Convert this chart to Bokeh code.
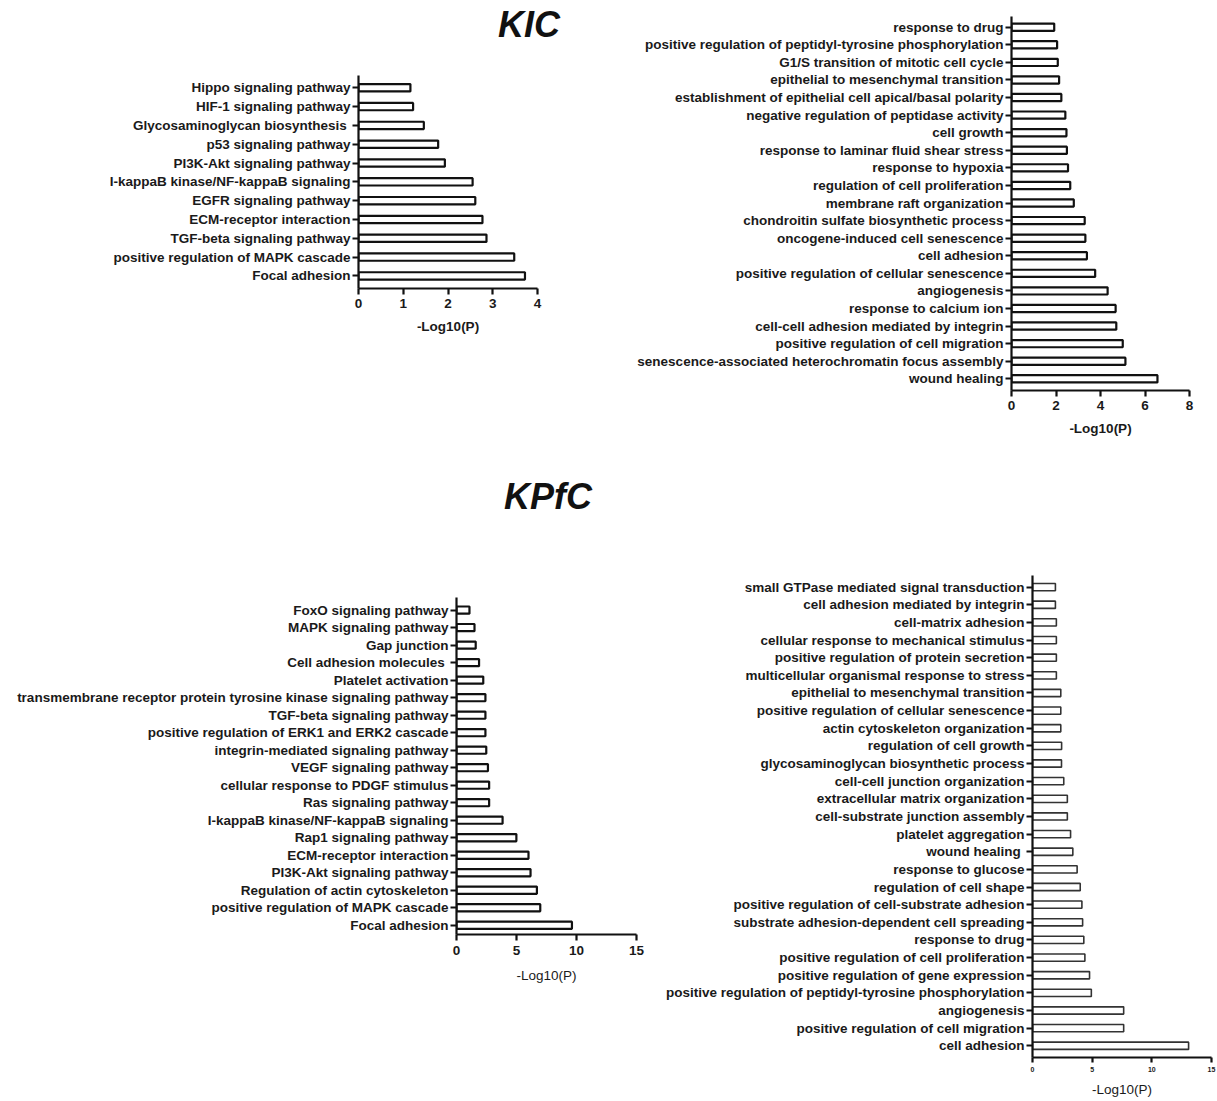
from bokeh.plotting import figure
from bokeh.layouts import column, row
from bokeh.models import Range1d, FixedTicker, ColumnDataSource, Div
from bokeh.embed import file_html
from bokeh.resources import INLINE

FONT = "Liberation Sans"

# ---------------- data ----------------
kic_kegg_terms = [
    "Hippo signaling pathway",
    "HIF-1 signaling pathway",
    "Glycosaminoglycan biosynthesis ",
    "p53 signaling pathway",
    "PI3K-Akt signaling pathway",
    "I-kappaB kinase/NF-kappaB signaling",
    "EGFR signaling pathway",
    "ECM-receptor interaction",
    "TGF-beta signaling pathway",
    "positive regulation of MAPK cascade",
    "Focal adhesion",
]
kic_kegg_values = [1.16, 1.22, 1.46, 1.78, 1.93, 2.55, 2.61, 2.77, 2.86, 3.48, 3.72]

kic_go_terms = [
    "response to drug",
    "positive regulation of peptidyl-tyrosine phosphorylation",
    "G1/S transition of mitotic cell cycle",
    "epithelial to mesenchymal transition",
    "establishment of epithelial cell apical/basal polarity",
    "negative regulation of peptidase activity",
    "cell growth",
    "response to laminar fluid shear stress",
    "response to hypoxia",
    "regulation of cell proliferation",
    "membrane raft organization",
    "chondroitin sulfate biosynthetic process",
    "oncogene-induced cell senescence",
    "cell adhesion",
    "positive regulation of cellular senescence",
    "angiogenesis",
    "response to calcium ion",
    "cell-cell adhesion mediated by integrin",
    "positive regulation of cell migration",
    "senescence-associated heterochromatin focus assembly",
    "wound healing",
]
kic_go_values = [1.92, 2.05, 2.08, 2.14, 2.24, 2.42, 2.47, 2.49, 2.54, 2.64, 2.80,
                 3.29, 3.32, 3.39, 3.76, 4.32, 4.68, 4.71, 5.00, 5.12, 6.56]

kpfc_kegg_terms = [
    "FoxO signaling pathway",
    "MAPK signaling pathway",
    "Gap junction",
    "Cell adhesion molecules ",
    "Platelet activation",
    "transmembrane receptor protein tyrosine kinase signaling pathway",
    "TGF-beta signaling pathway",
    "positive regulation of ERK1 and ERK2 cascade",
    "integrin-mediated signaling pathway",
    "VEGF signaling pathway",
    "cellular response to PDGF stimulus",
    "Ras signaling pathway",
    "I-kappaB kinase/NF-kappaB signaling",
    "Rap1 signaling pathway",
    "ECM-receptor interaction",
    "PI3K-Akt signaling pathway",
    "Regulation of actin cytoskeleton",
    "positive regulation of MAPK cascade",
    "Focal adhesion",
]
kpfc_kegg_values = [1.08, 1.50, 1.60, 1.88, 2.23, 2.41, 2.41, 2.41, 2.48, 2.62,
                    2.72, 2.72, 3.84, 4.99, 6.00, 6.17, 6.70, 6.98, 9.62]

kpfc_go_terms = [
    "small GTPase mediated signal transduction",
    "cell adhesion mediated by integrin",
    "cell-matrix adhesion",
    "cellular response to mechanical stimulus",
    "positive regulation of protein secretion",
    "multicellular organismal response to stress",
    "epithelial to mesenchymal transition",
    "positive regulation of cellular senescence",
    "actin cytoskeleton organization",
    "regulation of cell growth",
    "glycosaminoglycan biosynthetic process",
    "cell-cell junction organization",
    "extracellular matrix organization",
    "cell-substrate junction assembly",
    "platelet aggregation",
    "wound healing ",
    "response to glucose",
    "regulation of cell shape",
    "positive regulation of cell-substrate adhesion",
    "substrate adhesion-dependent cell spreading",
    "response to drug",
    "positive regulation of cell proliferation",
    "positive regulation of gene expression",
    "positive regulation of peptidyl-tyrosine phosphorylation",
    "angiogenesis",
    "positive regulation of cell migration",
    "cell adhesion",
]
kpfc_go_values = [1.92, 1.92, 2.00, 2.00, 2.00, 2.00, 2.37, 2.37, 2.37, 2.44,
                  2.43, 2.62, 2.92, 2.92, 3.19, 3.38, 3.74, 4.00, 4.14, 4.20,
                  4.30, 4.39, 4.78, 4.93, 7.64, 7.64, 13.08]

x_ticks_kic_kegg = [0, 1, 2, 3, 4]
x_ticks_kic_go = [0, 2, 4, 6, 8]
x_ticks_kpfc = [0, 5, 10, 15]
x_title = "-Log10(P)"
title_top = "KIC"
title_bottom = "KPfC"


def make_panel(terms, values, width, height, bl, br, bt, bb, xmax, xticks,
               ytop, ybottom, bar_h, tick_size, title_style, bar_lw, bar_color,
               tick_standoff, title_standoff, tick_out):
    n = len(terms)
    src = ColumnDataSource(dict(y=list(range(n)), v=values, term=terms))
    p = figure(width=width, height=height, output_backend="svg",
               toolbar_location=None,
               x_range=Range1d(0, xmax), y_range=Range1d(ybottom, ytop),
               min_border_left=bl, min_border_right=br,
               min_border_top=bt, min_border_bottom=bb)
    p.hbar(y="y", left=0, right="v", height=bar_h, source=src,
           fill_color="white", line_color=bar_color, line_width=bar_lw)
    p.xgrid.visible = False
    p.ygrid.visible = False
    p.outline_line_color = None
    p.background_fill_color = "white"
    p.border_fill_color = "white"

    for ax in (p.xaxis[0], p.yaxis[0]):
        ax.axis_line_width = 2.2
        ax.axis_line_color = "#111111"
        ax.major_tick_line_width = 2.2
        ax.major_tick_line_color = "#111111"
        ax.major_tick_out = tick_out
        ax.major_tick_in = 0
        ax.minor_tick_line_color = None
        ax.major_label_text_font = FONT
        ax.major_label_text_font_style = "bold"
        ax.major_label_text_color = "#1a1a1a"

    xa = p.xaxis[0]
    xa.ticker = FixedTicker(ticks=xticks)
    xa.major_label_text_font_size = tick_size
    xa.major_label_standoff = tick_standoff
    xa.axis_label = x_title
    xa.axis_label_text_font = FONT
    xa.axis_label_text_font_size = "13.5px"
    xa.axis_label_text_font_style = title_style
    xa.axis_label_text_color = "#1a1a1a"
    xa.axis_label_standoff = title_standoff

    ya = p.yaxis[0]
    ya.major_tick_out = 6
    ya.ticker = FixedTicker(ticks=list(range(n)))
    ya.major_label_overrides = {i: t for i, t in enumerate(terms)}
    ya.major_label_text_font_size = "13.5px"
    ya.major_label_standoff = 2
    return p


def make_title(text, width, height, left, top):
    html = ('<div style="margin:0; padding:0; position:relative; left:%dpx; top:%dpx; '
            'font-family:\'Liberation Sans\', Arial, sans-serif; font-size:36px; '
            'font-weight:bold; font-style:italic; line-height:36px; color:#111111; '
            'white-space:nowrap;">%s</div>' % (left, top, text))
    return Div(text=html, width=width, height=height, margin=0)


# Top row (KIC)
d1 = make_title(title_top, 600, 60, 498, 7)
p1 = make_panel(kic_kegg_terms, kic_kegg_values, 600, 390, 358, 63, 15, 162,
                4, x_ticks_kic_kegg, -0.653, 10.67, 0.39, "13.5px", "bold",
                2.2, "#111111", 4, 8, 6)

p2 = make_panel(kic_go_terms, kic_go_values, 616, 450, 411, 27, 16, 60,
                8, x_ticks_kic_go, -0.61, 20.665, 0.41, "13.5px", "bold",
                2.2, "#111111", 4, 8, 6)

# Bottom row (KPfC)
d2 = make_title(title_bottom, 648, 80, 504, 29)
p3 = make_panel(kpfc_kegg_terms, kpfc_kegg_values, 648, 570, 456, 12, 67, 166,
                15, x_ticks_kpfc, -0.72, 18.53, 0.41, "13.5px", "normal",
                2.2, "#111111", 5, 10, 6)

p4 = make_panel(kpfc_go_terms, kpfc_go_values, 568, 650, 384, 5, 125, 43,
                15, x_ticks_kpfc, -0.66, 26.665, 0.41, "7px", "normal",
                1.6, "#333333", 4, 7, 5)

layout = column(row(column(d1, p1), column(p2)),
                row(column(d2, p3), column(p4)))

open("out.html", "w").write(file_html(layout, INLINE))
